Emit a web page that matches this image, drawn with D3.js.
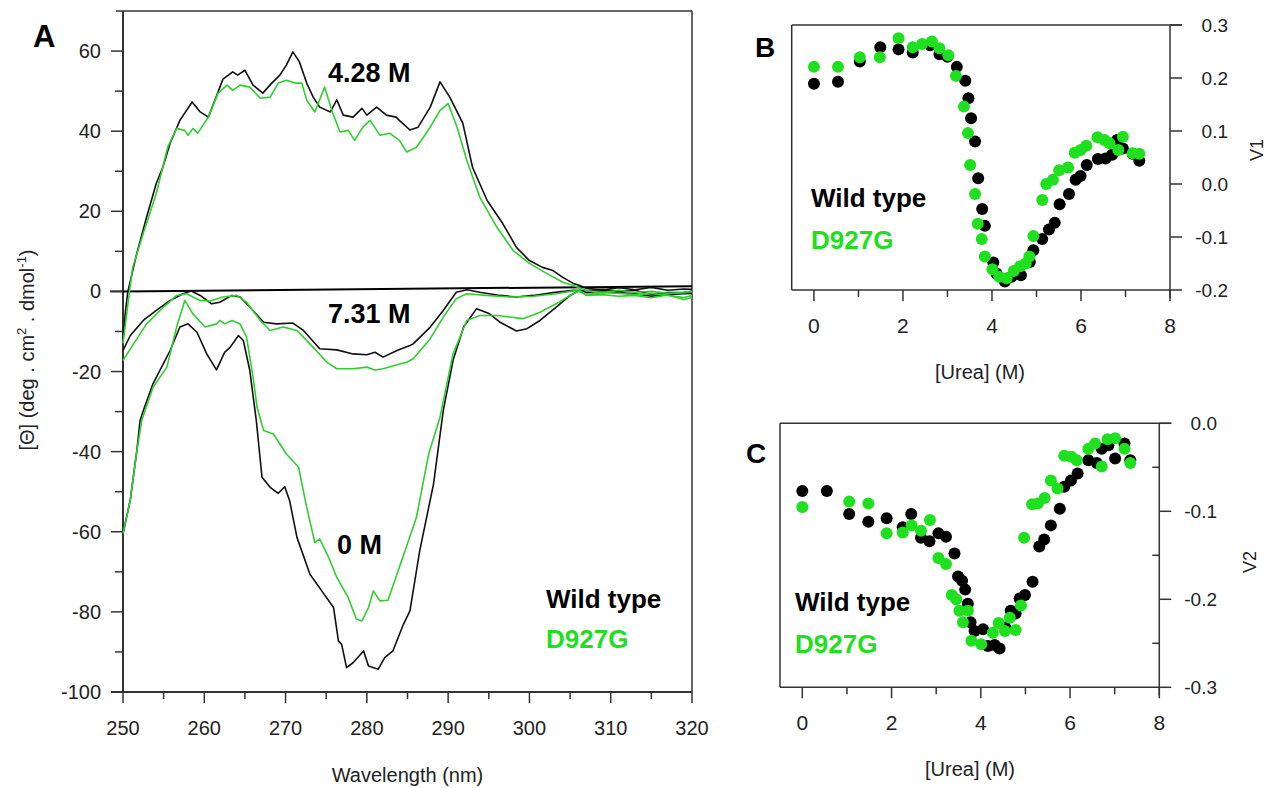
<!DOCTYPE html>
<html><head><meta charset="utf-8">
<script src="https://cdn.jsdelivr.net/npm/d3@7"></script>
<style>
body{margin:0;background:#fff;}
svg{display:block;font-family:"Liberation Sans",Arial,Helvetica,sans-serif;}
</style></head>
<body><svg id="c" width="1280" height="788"></svg>
<script>
// ---------- DATA ----------
const aXTicks = [250,260,270,280,290,300,310,320];
const aYTicks = [-100,-80,-60,-40,-20,0,20,40,60];
const ureaTicks = [0,2,4,6,8];
const bYTicks = [0.3,0.2,0.1,0.0,-0.1,-0.2];
const bYLabels = ["0.3","0.2","0.1","0.0","-0.1","-0.2"];
const cYTicks = [0.0,-0.1,-0.2,-0.3];
const cYLabels = ["0.0","-0.1","-0.2","-0.3"];
const concLabels = ["4.28 M","7.31 M","0 M"];
const seriesNames = ["Wild type","D927G"];

const baseline = [[250,0],[320,1.3]];

const wt428 = [[250,-12],[250.3,-5],[250.6,0],[251.7,9.5],[252.9,18.5],[254.1,27],[254.9,31],[255.8,37],[257,42.7],[258.5,47.3],[259.5,44.8],[260.5,43.5],[261.3,47.7],[262.3,53],[263.5,54.8],[264.1,54],[265,55.2],[266,51.5],[267.2,49.5],[268.3,52],[269.3,54],[270.1,56.5],[270.9,59.8],[271.7,57.3],[272.6,52],[273.4,48.5],[274.2,46],[275.5,44.8],[276.3,47.8],[277.1,44],[278.3,43.5],[279.4,45.7],[280,44],[281.2,46],[282.4,44],[283.6,43.5],[284,42.7],[285.3,40.3],[286.3,41],[287.8,46],[289,52.3],[290.2,48.5],[291.8,42],[293,31],[294.8,22.7],[296.7,17],[298.4,11],[300,7.7],[301.6,6],[302.9,5.2],[304.1,3.5],[305.4,2],[306.2,1.5],[307,0.8],[309,0.4],[311,0.9],[313,0.4],[315,1.0],[317,0.3],[319,0.6],[320,0.5]];
const mut428 = [[250,-13],[250.8,0],[251.2,6],[252.5,14.5],[254.1,24.5],[255.5,36],[256.6,40.7],[257.6,40.2],[258,39],[258.6,40.7],[259.2,39.5],[260.5,43.5],[261.7,49.5],[262.8,51.5],[263.5,50.2],[264.4,51.5],[265.6,51],[266.9,48.2],[268.1,48.5],[269.1,52],[270.1,52.7],[271.2,52],[272,52],[272.6,47.7],[273.6,44.8],[274.8,51],[275.8,44.5],[276.7,39.8],[277.7,40.2],[278.5,37.7],[279.5,41],[280.4,42.7],[281.6,39],[282.8,39.5],[284,37.7],[284.9,34.8],[286.1,36],[287.8,41],[289,45.2],[290,46.9],[291.1,41],[292.3,32.7],[293.9,23.5],[296,16],[298,10.2],[300,7],[302.1,4.5],[304.1,2.3],[305.4,1.5],[307,0.2],[309,-0.3],[311,0.3],[313,-0.2],[315,0],[317,-0.5],[319,-0.3],[320,0]];
const wt731 = [[250,-14.75],[250.9,-11],[252.5,-7.25],[254.1,-4.75],[255.8,-2.25],[257.4,-0.6],[258.4,0.1],[259.5,-1],[260.9,-3.1],[261.9,-2.7],[263.4,-1],[264.4,-1.4],[265.6,-3.9],[267.3,-7.7],[268.9,-8.1],[270.9,-7.9],[272.2,-9.75],[274.2,-14.3],[276.3,-14.6],[278.3,-15.6],[280,-15.8],[281,-15.2],[282,-16.4],[283.7,-14.75],[285.3,-13.5],[285.7,-13.1],[287.8,-8.9],[289.4,-4.75],[291,-0.2],[292.3,0.4],[293.9,-0.2],[296.4,-1],[298.4,-1.4],[300.5,-1],[302.9,-0.3],[305.4,0.25],[307,0.2],[309,0.5],[311,0],[313,0.3],[315,-0.8],[317,-0.3],[319,-0.2],[320,0]];
const mut731 = [[250,-17.25],[251.3,-13.1],[252.9,-8.1],[255,-3.9],[256.6,-1],[257.8,-0.6],[259.5,-2.25],[260.7,-2.4],[262.3,-1.4],[264,-1],[265.2,-2.7],[266.9,-7.25],[268.1,-9.75],[269.7,-8.9],[271.4,-9.75],[273,-13.1],[275.1,-17.7],[276.3,-19.3],[278.3,-19.3],[280,-18.9],[281,-19.6],[282,-19.3],[283.7,-18.3],[284.9,-17.7],[285.7,-16.8],[287.8,-11.8],[289.4,-6.4],[291,-1.8],[292.3,-0.6],[294.7,-1],[297.6,-1.4],[300.5,-1.2],[303.3,-0.6],[305.8,0.25],[307,-0.8],[309,-0.3],[311,-0.5],[313,-0.8],[315,-0.5],[317,-1.0],[319,-1.5],[320,-1]];
const wt0 = [[250,-60.5],[250.9,-52],[251.7,-39.75],[252.1,-32.25],[252.5,-29.75],[253.7,-23],[255.8,-14.75],[257,-8.9],[258,-8.1],[259.1,-10.2],[260.3,-15.6],[261.5,-19.6],[262.5,-15.2],[263.2,-13.9],[264.2,-11],[264.8,-12.25],[265.6,-19.75],[266.4,-32.25],[267.1,-46.4],[268.1,-48.9],[269.1,-50.4],[269.9,-48.75],[270.5,-52.25],[271.4,-61.4],[273,-70.6],[274.6,-75.2],[275.9,-78.9],[276.5,-87.25],[276.9,-88.1],[277.5,-93.9],[278.3,-92.7],[279.6,-89.75],[280.2,-93.5],[281.4,-94.3],[282.2,-91.4],[283.2,-89.75],[284.5,-83.1],[285.3,-79.75],[286.5,-64.75],[288.2,-48.1],[289.4,-29.75],[290.6,-17.25],[291.9,-8.9],[293.5,-4.3],[295.1,-5.6],[296.4,-7.7],[298.4,-9.9],[299.7,-9.3],[301.3,-7.25],[303.3,-3.9],[305,-1],[306.2,0.25],[307,-0.3],[309,0.2],[311,-0.3],[313,-0.6],[315,-1.2],[317,-0.8],[319,-0.6],[320,-0.5]];
const mut0 = [[250,-60.5],[250.9,-52],[251.7,-40],[252.3,-32.25],[253.7,-23.9],[255.4,-18.9],[256.6,-8.9],[257.6,-2.25],[258.6,-5.6],[260.1,-8.9],[261.5,-8.1],[261.9,-7.25],[262.5,-8.1],[263.4,-7.25],[264.4,-8.1],[265.2,-11.4],[266,-21.4],[266.5,-29],[267.3,-34.75],[268.5,-35.6],[270.1,-40.6],[271.6,-43.9],[272.6,-53.9],[273.6,-62.7],[274.2,-61.8],[275.3,-66.4],[276.3,-71.4],[277.7,-76.4],[278.7,-81.8],[279.4,-82.25],[280.2,-78.9],[280.8,-74.75],[281.6,-77.25],[282.6,-77.1],[283.7,-70.6],[284.7,-64.75],[286.1,-56.4],[287.6,-40.6],[289,-31.4],[290.6,-15.6],[292.3,-7.25],[293.9,-6],[296,-6],[297.6,-6.4],[299.2,-6.8],[301.3,-5.2],[303.3,-3.1],[305,-1],[306.2,0.25],[307,-1.0],[309,-0.8],[311,-1.2],[313,-1.0],[315,-1.6],[317,-0.9],[319,-2.0],[320,-1.5]];

const v1Wt = [[0,0.189],[0.54,0.193],[1.03,0.231],[1.49,0.258],[1.90,0.254],[2.22,0.248],[2.61,0.262],[2.82,0.245],[3.0,0.240],[3.21,0.221],[3.40,0.195],[3.47,0.162],[3.53,0.124],[3.62,0.080],[3.69,0.011],[3.78,-0.047],[3.84,-0.079],[4.03,-0.148],[4.10,-0.169],[4.29,-0.184],[4.44,-0.175],[4.65,-0.172],[4.85,-0.147],[4.93,-0.125],[5.13,-0.104],[5.28,-0.086],[5.41,-0.073],[5.52,-0.038],[5.73,-0.019],[5.88,0.008],[5.99,0.015],[6.13,0.036],[6.38,0.047],[6.55,0.048],[6.70,0.055],[6.81,0.083],[6.94,0.067],[7.16,0.057],[7.31,0.044]];
const v1Mut = [[0,0.221],[0.54,0.221],[1.03,0.239],[1.48,0.239],[1.90,0.275],[2.22,0.258],[2.43,0.264],[2.65,0.269],[2.82,0.256],[3.02,0.243],[3.19,0.204],[3.37,0.146],[3.46,0.096],[3.51,0.036],[3.62,-0.019],[3.68,-0.075],[3.77,-0.104],[3.84,-0.137],[4.01,-0.161],[4.16,-0.175],[4.33,-0.178],[4.49,-0.164],[4.63,-0.155],[4.76,-0.150],[4.84,-0.137],[4.93,-0.098],[5.13,-0.030],[5.22,0.0],[5.37,0.008],[5.51,0.026],[5.71,0.031],[5.86,0.059],[5.99,0.064],[6.12,0.072],[6.37,0.088],[6.53,0.083],[6.64,0.077],[6.84,0.064],[6.94,0.089],[7.16,0.058],[7.31,0.057]];
const v2Wt = [[0,-0.077],[0.55,-0.077],[1.05,-0.103],[1.48,-0.112],[1.89,-0.108],[2.25,-0.118],[2.44,-0.103],[2.66,-0.130],[2.85,-0.134],[3.05,-0.125],[3.22,-0.129],[3.41,-0.148],[3.49,-0.174],[3.58,-0.179],[3.65,-0.189],[3.71,-0.205],[3.77,-0.226],[3.86,-0.236],[4.05,-0.234],[4.16,-0.253],[4.31,-0.252],[4.42,-0.256],[4.55,-0.232],[4.67,-0.213],[4.78,-0.216],[4.87,-0.199],[4.99,-0.195],[5.16,-0.180],[5.31,-0.140],[5.42,-0.132],[5.57,-0.116],[5.77,-0.097],[5.87,-0.072],[6.02,-0.065],[6.17,-0.057],[6.41,-0.042],[6.60,-0.045],[6.71,-0.029],[6.86,-0.025],[7.01,-0.040],[7.22,-0.023],[7.35,-0.042]];
const v2Mut = [[0,-0.095],[1.05,-0.089],[1.48,-0.091],[1.89,-0.125],[2.25,-0.124],[2.45,-0.116],[2.66,-0.122],[2.86,-0.110],[3.05,-0.153],[3.22,-0.160],[3.35,-0.195],[3.45,-0.200],[3.52,-0.213],[3.71,-0.213],[3.60,-0.226],[3.79,-0.247],[4.01,-0.251],[4.27,-0.238],[4.40,-0.227],[4.54,-0.236],[4.65,-0.221],[4.78,-0.235],[4.90,-0.207],[4.97,-0.130],[5.15,-0.092],[5.28,-0.091],[5.43,-0.085],[5.57,-0.065],[5.72,-0.074],[5.87,-0.037],[6.03,-0.038],[6.15,-0.042],[6.41,-0.029],[6.56,-0.023],[6.71,-0.049],[6.84,-0.018],[7.01,-0.017],[7.22,-0.029],[7.35,-0.045]];

// ---------- DRAW ----------
const BLACK = "#111", LGREEN = "#2fcf2f", DGREEN = "#1fe01f", AX = "#333";
const svg = d3.select("#c");
const FONT = "'Liberation Sans', Arial, Helvetica, sans-serif";

function txt(g, x, y, s, o) {
  o = o || {};
  return g.append("text").attr("x", x).attr("y", y).text(s)
    .attr("font-size", o.size || 18).attr("font-weight", o.weight || "normal")
    .attr("fill", o.fill || "#222").attr("text-anchor", o.anchor || "start")
    .attr("font-family", FONT);
}
function ln(g, x1, y1, x2, y2, w) {
  g.append("line").attr("x1", x1).attr("y1", y1).attr("x2", x2).attr("y2", y2)
    .attr("stroke", AX).attr("stroke-width", w || 1.5);
}

// ===== Panel A =====
const ax = d3.scaleLinear().domain([250, 320]).range([123, 692]);
const ay = d3.scaleLinear().domain([-100, 70]).range([692, 11]);
const gA = svg.append("g");
ln(gA, 116, ay(70), ax(320), ay(70));
ln(gA, ax(320), ay(70), ax(320), ay(-100));
ln(gA, ax(250), ay(70), ax(250), ay(-100), 2);
ln(gA, 111, ay(-100), ax(320), ay(-100), 2);
d3.range(-100, 61, 10).forEach(v => {
  const major = aYTicks.includes(v);
  ln(gA, ax(250) - (major ? 12 : 8), ay(v), ax(250), ay(v), 1.5);
});
aYTicks.forEach(v => txt(gA, 101, ay(v) + 7, String(v), {size: 20, anchor: "end"}));
d3.range(250, 321, 5).forEach(v => {
  const major = aXTicks.includes(v);
  ln(gA, ax(v), ay(-100), ax(v), ay(-100) + (major ? 11 : 7), 1.5);
});
aXTicks.forEach(v => txt(gA, ax(v), 735, String(v), {size: 20, anchor: "middle"}));
txt(gA, ax(285), 782, "Wavelength (nm)", {size: 20, anchor: "middle"});
const yt = gA.append("text").attr("transform", "translate(34,350) rotate(-90)")
  .attr("text-anchor", "middle").attr("font-size", 20).attr("fill", "#222").attr("font-family", FONT);
yt.append("tspan").text("[\u0398] (deg . cm");
yt.append("tspan").text("2").attr("font-size", 13).attr("dy", -8);
yt.append("tspan").text(" . dmol").attr("dy", 8);
yt.append("tspan").text("-1").attr("font-size", 13).attr("dy", -8);
yt.append("tspan").text(")").attr("dy", 8);
txt(gA, 33, 47, "A", {size: 31, weight: "bold", fill: "#000"});

const lineA = d3.line().x(d => ax(d[0])).y(d => ay(d[1]));
gA.append("path").datum(baseline).attr("d", lineA).attr("fill", "none").attr("stroke", "#000").attr("stroke-width", 2);
ln(gA, 110, ay(0), ax(250), ay(0), 2);

const curves = [[wt0, BLACK],[wt731, BLACK],[wt428, BLACK],[mut0, LGREEN],[mut731, LGREEN],[mut428, LGREEN]];
curves.forEach(c => {
  gA.append("path").datum(c[0]).attr("d", lineA).attr("fill", "none")
    .attr("stroke", c[1]).attr("stroke-width", 1.6).attr("stroke-linejoin", "round");
});
txt(gA, 328, 82, concLabels[0], {size: 27, weight: "bold", fill: "#000"});
txt(gA, 328, 323, concLabels[1], {size: 27, weight: "bold", fill: "#000"});
txt(gA, 337, 554, concLabels[2], {size: 27, weight: "bold", fill: "#000"});
txt(gA, 546, 608, seriesNames[0], {size: 26, weight: "bold", fill: "#000"});
txt(gA, 546, 648, seriesNames[1], {size: 26, weight: "bold", fill: DGREEN});

// ===== scatter panels =====
function scatterPanel(cfg) {
  const g = svg.append("g");
  const x = d3.scaleLinear().domain([-0.5, 8]).range([cfg.left, cfg.right]);
  const y = d3.scaleLinear().domain(cfg.ydom).range([cfg.bottom, cfg.top]);
  ln(g, cfg.left, cfg.top, cfg.right + 12, cfg.top);
  ln(g, cfg.left, cfg.top, cfg.left, cfg.bottom);
  ln(g, cfg.left, cfg.bottom, cfg.right, cfg.bottom);
  ln(g, cfg.right, cfg.top, cfg.right, cfg.bottom + 8);
  d3.range(0, 9, 1).forEach(v => {
    const major = ureaTicks.includes(v);
    ln(g, x(v), cfg.bottom, x(v), cfg.bottom + (major ? 11 : 7));
  });
  ureaTicks.forEach(v => txt(g, x(v), cfg.bottom + 43, String(v), {size: 21, anchor: "middle"}));
  txt(g, cfg.xtX, cfg.bottom + 89, "[Urea] (M)", {size: 20, anchor: "middle"});
  cfg.yticks.forEach((v, i) => {
    ln(g, cfg.right, y(v), cfg.right + 12, y(v));
    txt(g, cfg.labelX, y(v) + 7, cfg.ylabels[i], {size: 19, anchor: "end"});
  });
  (cfg.minor || []).forEach(v => ln(g, cfg.right - 7, y(v), cfg.right, y(v)));
  g.append("text").attr("transform", `translate(${cfg.vX},${cfg.vY}) rotate(-90)`)
    .attr("text-anchor", "middle").attr("font-size", 18).attr("fill", "#222")
    .attr("font-family", FONT).text(cfg.vName);
  txt(g, cfg.letterX, cfg.letterY, cfg.letter, {size: 28, weight: "bold", fill: "#000"});
  g.append("g").selectAll("circle").data(cfg.wt).join("circle")
    .attr("cx", d => x(d[0])).attr("cy", d => y(d[1])).attr("r", 6).attr("fill", "#000");
  g.append("g").selectAll("circle").data(cfg.mut).join("circle")
    .attr("cx", d => x(d[0])).attr("cy", d => y(d[1])).attr("r", 6).attr("fill", DGREEN);
  txt(g, cfg.legX, cfg.legY, seriesNames[0], {size: 26, weight: "bold", fill: "#000"});
  txt(g, cfg.legX, cfg.legY + 42, seriesNames[1], {size: 26, weight: "bold", fill: DGREEN});
}

scatterPanel({left: 791.7, right: 1170, top: 25, bottom: 290, ydom: [-0.2, 0.3],
  yticks: bYTicks, ylabels: bYLabels, labelX: 1228, vName: "V1", vX: 1263, vY: 150,
  xtX: 980, letter: "B", letterX: 755, letterY: 57, wt: v1Wt, mut: v1Mut, legX: 811, legY: 207});
scatterPanel({left: 780, right: 1159.3, top: 423.3, bottom: 687.3, ydom: [-0.3, 0],
  yticks: cYTicks, ylabels: cYLabels, labelX: 1217, vName: "V2", vX: 1256, vY: 562,
  minor: [-0.05, -0.15, -0.25],
  xtX: 970, letter: "C", letterX: 746, letterY: 463, wt: v2Wt, mut: v2Mut, legX: 795, legY: 611});
</script></body></html>
